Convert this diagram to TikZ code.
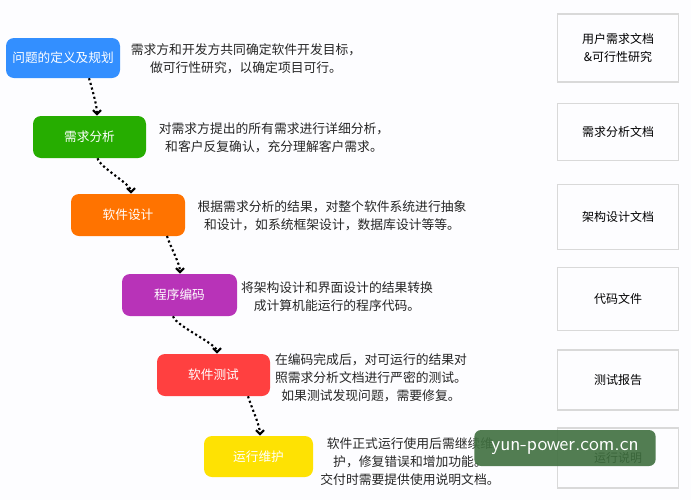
\documentclass[tikz,border=0pt]{standalone}
\usepackage{fontspec}
\setmainfont{Noto Sans CJK SC}
\usetikzlibrary{arrows.meta}
\tikzset{
 stage/.style={rounded corners=6pt, text=white, font=\fontsize{9.5}{11}\selectfont, align=center, inner sep=0pt},
 desc/.style={align=center, font=\fontsize{9.6}{13.5}\selectfont, text=black!85},
 doc/.style={draw=black!15, line width=0.8pt, align=center, font=\fontsize{9}{13}\selectfont, minimum width=91pt},
 flow/.style={dotted, line width=1.6pt, -{Straight Barb[length=3pt,width=6pt]}},
}
\begin{document}
\begin{tikzpicture}[x=0.75pt,y=-0.75pt]
\fill[white!97!blue!30!white] (0,0) rectangle (691,500);
\useasboundingbox (0,0) rectangle (691,500);
\def\stg#1#2#3#4#5#6#7{\node[stage, fill=#6, minimum width=#3*0.75pt-#2*0.75pt, minimum height=#5*0.75pt-#4*0.75pt] (#1) at ({(#2+#3)/2},{(#4+#5)/2}) {#7};}
\stg{s1}{6}{120}{38}{78}{blue!55!cyan!80!white}{问题的定义及规划}
\stg{s2}{33}{146}{116}{158}{green!60!black!80!lime}{需求分析}
\stg{s3}{71}{185}{194}{236}{orange!90!red}{软件设计}
\stg{s4}{122}{237}{274}{316}{violet!70!magenta!80!white}{程序编码}
\stg{s5}{157}{270}{354}{396}{red!75!white}{软件测试}
\stg{s6}{204}{313}{436}{477}{yellow!85!orange}{运行维护}
\node[desc] (d1) at (246,59) {需求方和开发方共同确定软件开发目标，\\做可行性研究，以确定项目可行。};
\node[desc] (d2) at (274,138) {对需求方提出的所有需求进行详细分析，\\和客户反复确认，充分理解客户需求。};
\node[desc] (d3) at (332,216) {根据需求分析的结果，对整个软件系统进行抽象\\和设计，如系统框架设计，数据库设计等等。};
\node[desc] (d4) at (337,297) {将架构设计和界面设计的结果转换\\成计算机能运行的程序代码。};
\node[desc] (d5) at (371,378) {在编码完成后，对可运行的结果对\\照需求分析文档进行严密的测试。\\如果测试发现问题，需要修复。};
\node[desc] (d6) at (410,462) {软件正式运行使用后需继续维\\护，修复错误和增加功能。\\交付时需要提供使用说明文档。};
\node[doc, minimum height=51pt] (r1) at (618,48) {用户需求文档\\\&可行性研究};
\node[doc, minimum height=43pt] (r2) at (618,132) {需求分析文档};
\node[doc, minimum height=49pt] (r3) at (618,217) {架构设计文档};
\node[doc, minimum height=47pt] (r4) at (618,299) {代码文件};
\node[doc, minimum height=45pt] (r5) at (618,380) {测试报告};
\node[doc, minimum height=45pt] (r6) at (618,458) {运行说明};
\draw[flow] ([xshift=19.5pt]s1.south) .. controls +(3,10) and +(0,-10) .. (s2.north -| 97,0);
\draw[flow] ([xshift=6pt]s2.south) .. controls +(3,10) and +(0,-10) .. (s3.north -| 131,0);
\draw[flow] (167,236) .. controls +(3,10) and +(0,-10) .. (s4.north -| 180,0);
\draw[flow] (s4.south -| 173,0) .. controls +(3,10) and +(0,-10) .. (s5.north -| 217,0);
\draw[flow] (s5.south -| 248,0) .. controls +(3,10) and +(0,-10) .. (s6.north -| 260,0);
\node[fill=green!25!black!75, fill opacity=0.9, text opacity=1, text=white, rounded corners=5pt, minimum width=136pt, minimum height=27pt, font=\fontsize{15}{16}\selectfont\sffamily] (wm) at (565,448) {yun-power.com.cn};
\end{tikzpicture}
\end{document}
